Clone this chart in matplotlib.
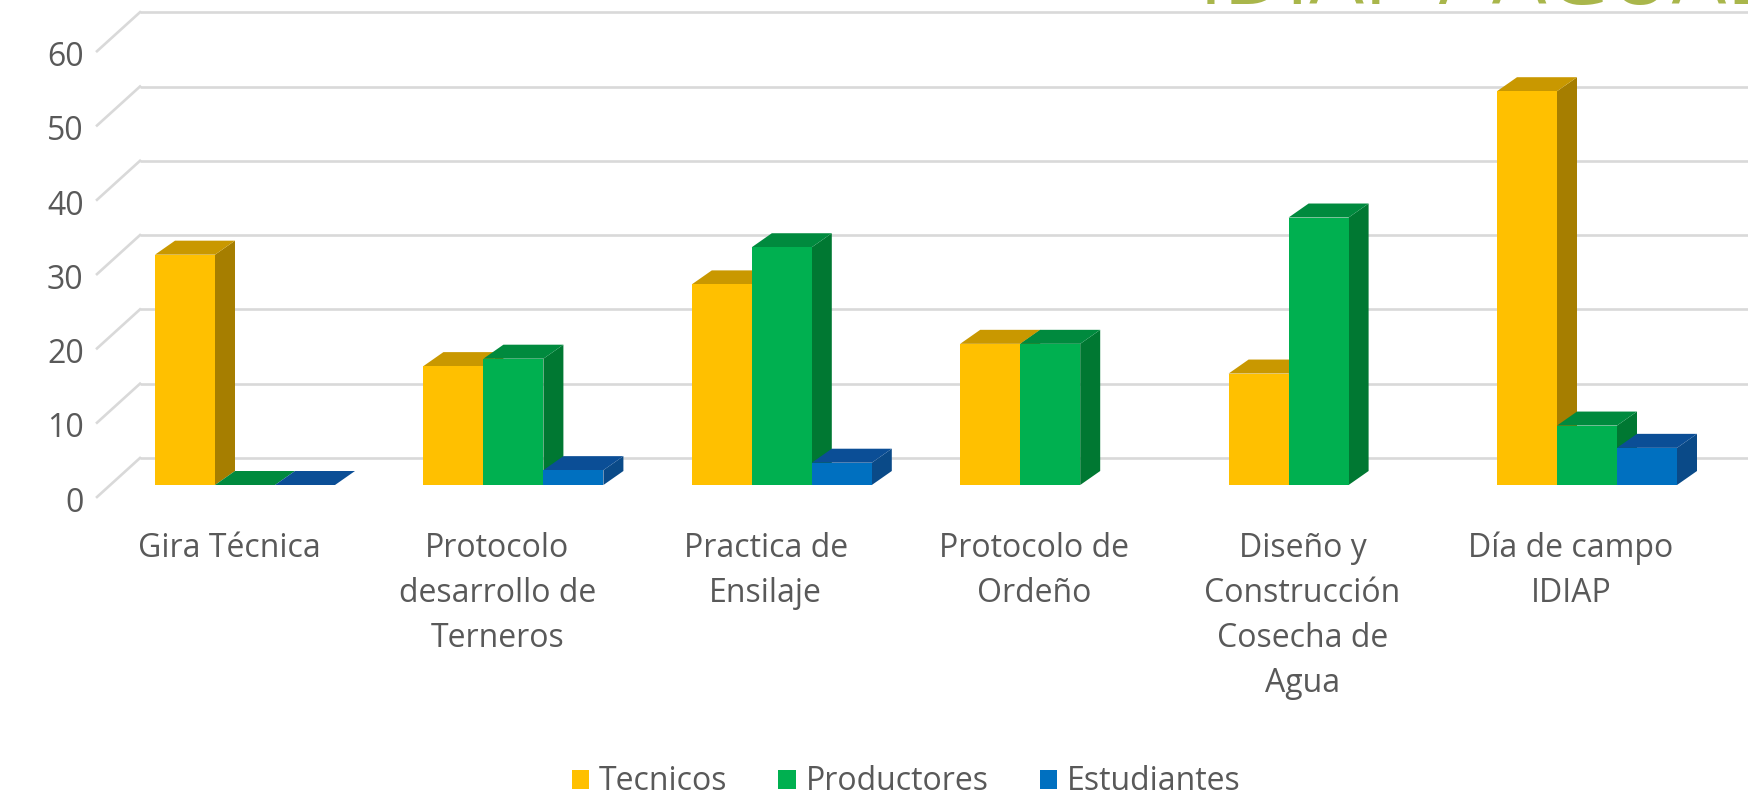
import numpy as np
import matplotlib
matplotlib.use("Agg")
import matplotlib.pyplot as plt
from matplotlib.patches import Polygon, Patch

plt.rcParams['font.family'] = ['Open Sans', 'DejaVu Sans']

# ---- data ----
categories = ["Gira Técnica", "Protocolo\ndesarrollo de\nTerneros", "Practica de\nEnsilaje",
              "Protocolo de\nOrdeño", "Diseño y\nConstrucción\nCosecha de\nAgua", "Día de campo\nIDIAP"]
series_names = ["Tecnicos", "Productores", "Estudiantes"]
tecnicos = [31, 16, 27, 19, 15, 53]
productores = [0, 17, 32, 19, 36, 8]
estudiantes = [0, 2, 3, np.nan, np.nan, 5]
yticks = [0, 10, 20, 30, 40, 50, 60]
title_text = "IDIAP / AGUADULCE"

# ---- styles ----
front_cols = ["#FFC000", "#00B050", "#0070C0"]
top_cols = ["#C99800", "#008A3E", "#0B4E96"]
side_cols = ["#A67E00", "#007832", "#0A4A88"]
grid_col = "#D9D9D9"
text_col = "#595959"
FS = 23

W, H = 1749, 799
fig = plt.figure(figsize=(W / 100, H / 100), dpi=100)
fig.patch.set_facecolor("white")

PX_X = 268.4   # px per category
PX_Y = 7.43    # px per unit
ax_left_px, ax_bottom_px, ax_top_px = 92, 500, 0
ax = fig.add_axes([ax_left_px / W, 1 - ax_bottom_px / H, (W - ax_left_px) / W, (ax_bottom_px - ax_top_px) / H])
ax.set_xlim((ax_left_px - 229) / PX_X, (W - 229) / PX_X)
ax.set_ylim(-(ax_bottom_px - 485) / PX_Y, 485 / PX_Y)
for sp in ax.spines.values():
    sp.set_visible(False)
ax.set_facecolor("none")

# 3D geometry (in data units)
bar_w = 60 / PX_X
ddx = 20 / PX_X
ddy = 14 / PX_Y
left_off = -74 / PX_X
back_dy = (485 - 458) / PX_Y
front_dy = (497 - 485) / PX_Y
back_x = (140 - 229) / PX_X
front_x = (97 - 229) / PX_X
x_max = (W - 229) / PX_X

# walls/gridlines
for v in yticks:
    ax.plot([back_x, x_max], [v + back_dy, v + back_dy], color=grid_col, lw=1.9, zorder=1, solid_capstyle="butt")
    ax.plot([front_x, back_x], [v - front_dy, v + back_dy], color=grid_col, lw=1.9, zorder=1)

# bars
all_series = [tecnicos, productores, estudiantes]
for s, vals in enumerate(all_series):
    for i, v in enumerate(vals):
        if v is None or np.isnan(v):
            continue
        x0 = i + left_off + s * bar_w
        z = 2 + s * 0.1
        ax.add_patch(Polygon([(x0 + bar_w, 0), (x0 + bar_w + ddx, ddy), (x0 + bar_w + ddx, v + ddy), (x0 + bar_w, v)],
                             closed=True, facecolor=side_cols[s], edgecolor="none", zorder=z))
        ax.add_patch(Polygon([(x0, v), (x0 + bar_w, v), (x0 + bar_w + ddx, v + ddy), (x0 + ddx, v + ddy)],
                             closed=True, facecolor=top_cols[s], edgecolor="none", zorder=z + 0.01))
        ax.bar(x0, v, width=bar_w, align="edge", color=front_cols[s], edgecolor="none", zorder=z + 0.02)

# y tick labels on front plane
ax.set_yticks([v - front_dy - 0.3 for v in yticks])
ax.set_yticklabels([str(v) for v in yticks])
ax.tick_params(axis="y", length=0, pad=6, labelsize=FS, labelcolor=text_col)

ax.set_xticks(range(len(categories)))
ax.set_xticklabels(categories, linespacing=1.48)
ax.tick_params(axis="x", length=0, pad=23, labelsize=FS, labelcolor=text_col)

# legend
handles = [Patch(facecolor=c, edgecolor="none") for c in front_cols]
fig.legend(handles, series_names, loc="center", bbox_to_anchor=(0.518, 1 - 782 / H), ncol=3, frameon=False,
           fontsize=FS, labelcolor=text_col, handlelength=0.55, handleheight=0.55, handletextpad=0.3,
           columnspacing=1.6)

# cut-off title
fig.text(1199 / W, 1 - 4 / H, title_text, color="#A9B64B", fontsize=62, ha="left", va="baseline")

fig.savefig("out.png", dpi=100, facecolor="white")
